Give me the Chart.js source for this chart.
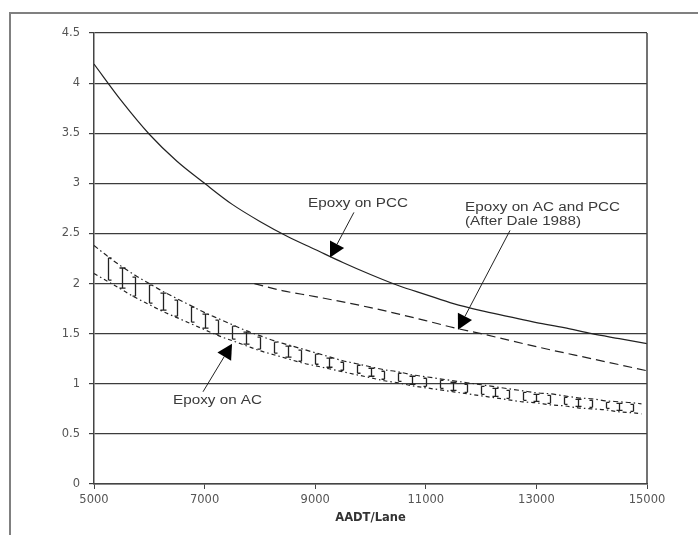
<!DOCTYPE html>
<html>
<head>
<meta charset="utf-8">
<title>Epoxy service life vs AADT/Lane</title>
<script src="https://cdn.jsdelivr.net/npm/chart.js@4.4.1/dist/chart.umd.min.js"></script>
<style>
  html, body { margin: 0; padding: 0; background: #fff; }
  #wrap { position: relative; width: 698px; height: 535px; }
</style>
</head>
<body>
<div id="wrap"><canvas id="life-chart" width="698" height="535"></canvas></div>
<script>
'use strict';

// axis ticks
var xTicks = [5000, 7000, 9000, 11000, 13000, 15000];
var yTicks = [0, 0.5, 1, 1.5, 2, 2.5, 3, 3.5, 4, 4.5];

// Epoxy on PCC
var pccX = [5000, 5500, 6000, 6500, 7000, 7500, 8000, 8500, 9000, 9500, 10000,
            10500, 11000, 11500, 12000, 12500, 13000, 13500, 14000, 14500, 15000];
var pccY = [4.19, 3.82, 3.49, 3.22, 3.00, 2.79, 2.62, 2.47, 2.34, 2.21, 2.09,
            1.98, 1.89, 1.80, 1.73, 1.67, 1.61, 1.56, 1.50, 1.45, 1.40];

// Epoxy on AC and PCC (After Dale 1988)
var daleX = [7900, 8400, 9000, 10000, 11000, 11500, 12000, 13000, 14000, 15000];
var daleY = [2.00, 1.93, 1.87, 1.76, 1.63, 1.56, 1.50, 1.37, 1.25, 1.13];

// Epoxy on AC: upper and lower limit of the band
var acX = [5000, 5250, 5500, 5750, 6000, 6250, 6500, 6750, 7000, 7250, 7500,
           7750, 8000, 8250, 8500, 8750, 9000, 9250, 9500, 9750, 10000,
           10250, 10500, 10750, 11000, 11250, 11500, 11750, 12000, 12250, 12500,
           12750, 13000, 13250, 13500, 13750, 14000, 14250, 14500, 14750, 14900];
var acHigh = [2.38, 2.27, 2.17, 2.08, 2.00, 1.92, 1.85, 1.78, 1.71, 1.65, 1.59,
              1.53, 1.48, 1.43, 1.39, 1.35, 1.31, 1.27, 1.23, 1.20, 1.17,
              1.14, 1.12, 1.09, 1.07, 1.05, 1.03, 1.01, 0.99, 0.97, 0.95,
              0.93, 0.91, 0.90, 0.88, 0.86, 0.85, 0.83, 0.82, 0.81, 0.80];
var acLow = [2.10, 2.02, 1.94, 1.86, 1.79, 1.72, 1.66, 1.60, 1.54, 1.48, 1.43,
             1.38, 1.33, 1.29, 1.25, 1.21, 1.18, 1.15, 1.12, 1.09, 1.06,
             1.03, 1.01, 0.98, 0.96, 0.94, 0.92, 0.90, 0.88, 0.86, 0.84,
             0.82, 0.81, 0.79, 0.78, 0.76, 0.75, 0.74, 0.72, 0.71, 0.70];

function pts(xs, ys) {
    return xs.map(function (x, i) { return { x: x, y: ys[i] }; });
}

// callouts: text anchor (left edge, middle) and arrow tail -> tip, in data units
var notes = [
    { lines: ['Epoxy on PCC'], x: 8870, y: 2.80, from: [9700, 2.71], to: [9268, 2.26] },
    { lines: ['Epoxy on AC and PCC', '(After Dale 1988)'], x: 11709, y: 2.755,
      from: [12523, 2.53], to: [11582, 1.54] },
    { lines: ['Epoxy on AC'], x: 6429, y: 0.83, from: [6971, 0.92], to: [7496, 1.40] }
];

var ink = '#222';

var framePlugin = {
    id: 'frame',
    beforeDraw: function (chart) {
        var c = chart.ctx;
        c.save();
        c.fillStyle = '#fff';
        c.fillRect(0, 0, chart.width, chart.height);
        c.strokeStyle = '#808080';
        c.lineWidth = 2;
        c.beginPath();
        c.moveTo(10, chart.height);
        c.lineTo(10, 13);
        c.lineTo(chart.width, 13);
        c.stroke();
        c.restore();
    },
    afterDraw: function (chart) {
        var a = chart.chartArea, c = chart.ctx;
        c.save();
        c.strokeStyle = '#444';
        c.lineWidth = 1.5;
        c.beginPath();
        c.moveTo(a.right, a.top);
        c.lineTo(a.right, a.bottom);
        c.stroke();
        c.restore();
    }
};

// vertical hatching between the AC limits, caps cycling [ I ]
var bandPlugin = {
    id: 'band',
    afterDatasetsDraw: function (chart) {
        var xs = chart.scales.x, ys = chart.scales.y, c = chart.ctx;
        c.save();
        c.strokeStyle = ink;
        c.lineWidth = 1.3;
        for (var i = 1; i < acX.length - 1; i++) {
            var px = Math.round(xs.getPixelForValue(acX[i])) + 0.5;
            var top = ys.getPixelForValue(acHigh[i]) + 1.5;
            var bot = ys.getPixelForValue(acLow[i]) - 1.5;
            var kind = (i - 1) % 3;
            var l = kind === 0 ? 0 : 3, r = kind === 2 ? 0 : 3;
            c.beginPath();
            c.moveTo(px, top);
            c.lineTo(px, bot);
            c.moveTo(px - l, top);
            c.lineTo(px + r, top);
            c.moveTo(px - l, bot);
            c.lineTo(px + r, bot);
            c.stroke();
        }
        c.restore();
    }
};

var notesPlugin = {
    id: 'notes',
    afterDraw: function (chart) {
        var xs = chart.scales.x, ys = chart.scales.y, c = chart.ctx;
        c.save();
        notes.forEach(function (n) {
            // label text, slightly stretched horizontally
            c.fillStyle = '#3a3a3a';
            c.font = '12.5px "Liberation Sans", Arial, sans-serif';
            c.textBaseline = 'middle';
            c.textAlign = 'left';
            var tx = xs.getPixelForValue(n.x), ty = ys.getPixelForValue(n.y);
            n.lines.forEach(function (s, k) {
                c.save();
                c.translate(tx, ty + k * 14);
                c.scale(1.22, 1);
                c.fillText(s, 0, 0);
                c.restore();
            });

            // arrow
            var x0 = xs.getPixelForValue(n.from[0]), y0 = ys.getPixelForValue(n.from[1]);
            var x1 = xs.getPixelForValue(n.to[0]), y1 = ys.getPixelForValue(n.to[1]);
            var ang = Math.atan2(y1 - y0, x1 - x0);
            var len = 15, half = 8;
            var bx = x1 - len * Math.cos(ang), by = y1 - len * Math.sin(ang);
            c.strokeStyle = ink;
            c.fillStyle = '#000';
            c.lineWidth = 1;
            c.beginPath();
            c.moveTo(x0, y0);
            c.lineTo(bx, by);
            c.stroke();
            c.beginPath();
            c.moveTo(x1, y1);
            c.lineTo(bx + half * Math.sin(ang), by - half * Math.cos(ang));
            c.lineTo(bx - half * Math.sin(ang), by + half * Math.cos(ang));
            c.closePath();
            c.fill();
        });
        c.restore();
    }
};

var tickFont = { family: '"DejaVu Sans", sans-serif', size: 11.5 };

new Chart(document.getElementById('life-chart'), {
    type: 'line',
    data: {
        datasets: [
            {
                label: 'Epoxy on PCC',
                data: pts(pccX, pccY),
                borderColor: ink,
                borderWidth: 1.2,
                cubicInterpolationMode: 'monotone'
            },
            {
                label: 'Epoxy on AC and PCC (After Dale 1988)',
                data: pts(daleX, daleY),
                borderColor: ink,
                borderWidth: 1.2,
                borderDash: [9, 5],
                cubicInterpolationMode: 'monotone'
            },
            {
                label: 'Epoxy on AC (upper)',
                data: pts(acX, acHigh),
                borderColor: ink,
                borderWidth: 1.2,
                borderDash: [5, 3, 1.5, 3],
                cubicInterpolationMode: 'monotone'
            },
            {
                label: 'Epoxy on AC (lower)',
                data: pts(acX, acLow),
                borderColor: ink,
                borderWidth: 1.2,
                borderDash: [4, 3, 1.5, 3],
                cubicInterpolationMode: 'monotone'
            }
        ]
    },
    options: {
        responsive: false,
        animation: false,
        layout: { padding: { left: 0, right: 51, top: 33, bottom: 0 } },
        elements: { point: { radius: 0, hoverRadius: 0 } },
        plugins: {
            legend: { display: false },
            tooltip: { enabled: false }
        },
        scales: {
            x: {
                type: 'linear',
                min: 5000,
                max: 15000,
                afterBuildTicks: function (s) {
                    s.ticks = xTicks.map(function (v) { return { value: v }; });
                },
                afterFit: function (s) { s.height = 51; },
                grid: {
                    drawOnChartArea: false,
                    color: '#444',
                    tickLength: 5
                },
                border: { color: '#444', width: 1.5 },
                ticks: {
                    color: '#555',
                    font: tickFont,
                    padding: 4,
                    maxRotation: 0,
                    callback: function (v) { return String(v); }
                },
                title: {
                    display: true,
                    text: 'AADT/Lane',
                    color: '#333',
                    font: { family: '"DejaVu Sans", sans-serif', size: 11.5, weight: 'bold' },
                    padding: { top: 0, bottom: 10 }
                }
            },
            y: {
                min: 0,
                max: 4.5,
                afterBuildTicks: function (s) {
                    s.ticks = yTicks.map(function (v) { return { value: v }; });
                },
                afterFit: function (s) { s.width = 94; },
                grid: {
                    color: '#3c3c3c',
                    lineWidth: 1.2,
                    tickLength: 5
                },
                border: { color: '#444', width: 1.5 },
                ticks: {
                    color: '#555',
                    font: tickFont,
                    padding: 9,
                    callback: function (v) { return String(v); }
                }
            }
        }
    },
    plugins: [framePlugin, bandPlugin, notesPlugin]
});
</script>
</body>
</html>
